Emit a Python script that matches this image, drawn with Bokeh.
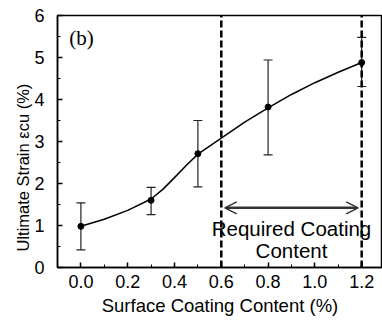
from bokeh.plotting import figure
from bokeh.models import (Range1d, SingleIntervalTicker, NumeralTickFormatter, Whisker,
                          ColumnDataSource, TeeHead, Arrow, OpenHead, Label, Title)
from bokeh.core.properties import value
from bokeh.embed import file_html
from bokeh.resources import INLINE

# data
coating = [0.0, 0.3, 0.5, 0.8, 1.2]
strain = [0.98, 1.60, 2.71, 3.82, 4.88]
strain_low = [0.42, 1.26, 1.92, 2.68, 4.31]
strain_high = [1.54, 1.91, 3.50, 4.94, 5.48]

curve_x = [0.0, 0.1, 0.2, 0.3, 0.35, 0.4, 0.45, 0.5, 0.6, 0.7, 0.8, 0.9, 1.0, 1.1, 1.2]
curve_y = [0.98, 1.15, 1.36, 1.63, 1.86, 2.14, 2.43, 2.70, 3.08, 3.46, 3.80, 4.12, 4.40, 4.65, 4.88]

range_lines = [0.6, 1.2]
req_lines = ["Required Coating", "Content"]
req_y = [0.94, 0.40]

FONT = "Liberation Sans"

p = figure(width=382, height=320, output_backend="svg", toolbar_location=None,
           x_range=Range1d(-0.1, 1.289), y_range=Range1d(0, 6),
           min_border_left=57, min_border_right=0, min_border_top=15, min_border_bottom=53)
p.background_fill_color = "white"
p.border_fill_color = "white"
p.grid.visible = False
p.outline_line_color = "black"
p.outline_line_width = 1.5

p.xaxis.ticker = SingleIntervalTicker(interval=0.2, num_minor_ticks=2)
p.xaxis.formatter = NumeralTickFormatter(format="0.0")
p.yaxis.ticker = SingleIntervalTicker(interval=1, num_minor_ticks=2)
for ax in (p.xaxis, p.yaxis):
    ax.axis_line_color = "black"
    ax.axis_line_width = 1.5
    ax.major_tick_in = 5
    ax.major_tick_out = 0
    ax.minor_tick_in = 3
    ax.minor_tick_out = 0
    ax.major_tick_line_color = "black"
    ax.minor_tick_line_color = "black"
    ax.major_tick_line_width = 1.5
    ax.major_label_text_font = FONT
    ax.major_label_text_font_size = "18px"
    ax.major_label_text_color = "black"
p.xaxis.major_label_standoff = 7
p.yaxis.major_label_standoff = 13
p.xaxis.axis_label = "Surface Coating Content (%)"
p.xaxis.axis_label_text_font = FONT
p.xaxis.axis_label_text_font_size = "18.5px"
p.xaxis.axis_label_text_font_style = "normal"
p.xaxis.axis_label_text_color = "black"
p.xaxis.axis_label_standoff = 4

# y-axis title as a left-side title so it can be offset along the axis
p.add_layout(Title(text="Ultimate Strain εcu (%)", align="left", offset=16,
                   text_font=FONT, text_font_size="16.5px", text_font_style="normal",
                   text_color="black", standoff=0), "left")

# dashed range lines
p.segment(x0=range_lines, x1=range_lines, y0=[0, 0], y1=[6, 6],
          line_color="black", line_width=2.5, line_dash="7 3")

# curve
p.line(curve_x, curve_y, line_color="black", line_width=1.5)

# error bars
src = ColumnDataSource(dict(x=coating, y=strain, lo=strain_low, hi=strain_high))
w = Whisker(base="x", lower="lo", upper="hi", source=src, line_color="#222222", line_width=1.2,
            lower_head=TeeHead(size=9, line_color="#222222", line_width=1.2),
            upper_head=TeeHead(size=9, line_color="#222222", line_width=1.2))
p.add_layout(w)
p.scatter("x", "y", source=src, size=6, color="black")

# arrow
p.add_layout(Arrow(x_start=0.615, x_end=1.185, y_start=1.42, y_end=1.42,
                   line_color="#333333", line_width=2.5,
                   start=OpenHead(size=12, line_color="#333333", line_width=1.5),
                   end=OpenHead(size=12, line_color="#333333", line_width=1.5)))

p.text(x=[0.9, 0.9], y=req_y, text=req_lines, text_font=value(FONT), text_font_size="20.5px",
       text_align="center", text_baseline="middle", text_color="black")

p.add_layout(Label(x=-0.05, y=5.75, text="(b)", text_font="Liberation Serif",
                   text_font_size="21px", text_baseline="top", text_align="left", text_color="black"))

open("out.html", "w").write(file_html(p, INLINE))
